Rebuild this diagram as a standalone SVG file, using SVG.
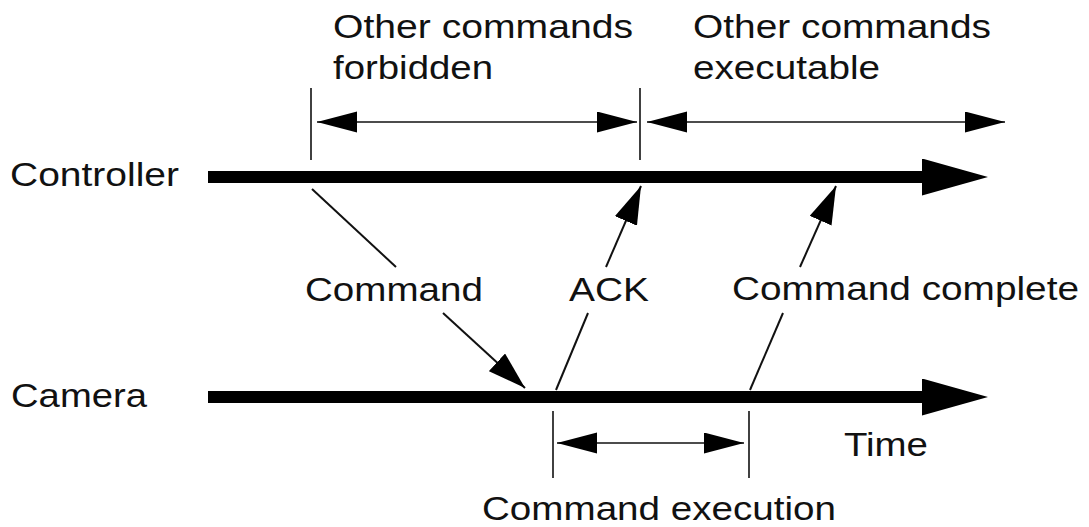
<svg xmlns="http://www.w3.org/2000/svg" width="1089" height="527" viewBox="0 0 1089 527">
  <style>
    .lbl { font-family: "Liberation Sans", Arial, sans-serif; font-size: 33px; fill: #111; }
    .tick { stroke: #111; stroke-width: 1.6; fill: none; }
    .dim { stroke: #111; stroke-width: 1.6; fill: none; marker-start: url(#dimHead); marker-end: url(#dimHead); }
    .msg { stroke: #111; stroke-width: 2; fill: none; }
    .axis { stroke: #000; stroke-width: 12; fill: none; marker-end: url(#axisHead); }
  </style>
  <defs>
    <marker id="dimHead" markerUnits="userSpaceOnUse" markerWidth="41" markerHeight="22" refX="40" refY="10.5" orient="auto-start-reverse">
      <path d="M0,0 L40,10.5 L0,21 Z" fill="#000"/>
    </marker>
    <marker id="msgHead" markerUnits="userSpaceOnUse" markerWidth="39" markerHeight="25" refX="38" refY="12" orient="auto">
      <path d="M0,0 L38,12 L0,24 Z" fill="#000"/>
    </marker>
    <marker id="axisHead" markerUnits="userSpaceOnUse" markerWidth="67" markerHeight="38" refX="0" refY="18.5" orient="auto">
      <path d="M0,0 L66,18.5 L0,37 Z" fill="#000"/>
    </marker>
  </defs>

  <!-- time axes -->
  <g id="controller">
    <text class="lbl" x="10" y="186" textLength="169" lengthAdjust="spacingAndGlyphs">Controller</text>
    <line class="axis" x1="208" y1="177" x2="922" y2="177"/>
  </g>
  <g id="camera">
    <text class="lbl" x="11" y="407" textLength="136" lengthAdjust="spacingAndGlyphs">Camera</text>
    <line class="axis" x1="208" y1="397" x2="922" y2="397"/>
    <text class="lbl" x="844" y="456" textLength="84" lengthAdjust="spacingAndGlyphs">Time</text>
  </g>

  <!-- interval: other commands forbidden -->
  <g id="forbidden">
    <text class="lbl" x="333" y="38" textLength="300" lengthAdjust="spacingAndGlyphs">Other commands</text>
    <text class="lbl" x="333" y="79" textLength="160" lengthAdjust="spacingAndGlyphs">forbidden</text>
  </g>

  <!-- interval: other commands executable -->
  <g id="executable">
    <text class="lbl" x="693" y="38" textLength="298" lengthAdjust="spacingAndGlyphs">Other commands</text>
    <text class="lbl" x="693" y="79" textLength="187" lengthAdjust="spacingAndGlyphs">executable</text>
  </g>

  <!-- interval: command execution -->
  <g id="execution">
    <text class="lbl" x="482" y="520" textLength="354" lengthAdjust="spacingAndGlyphs">Command execution</text>
  </g>

  <!-- message labels -->
  <g id="command">
    <text class="lbl" x="305" y="301" textLength="178" lengthAdjust="spacingAndGlyphs">Command</text>
  </g>
  <g id="ack">
    <text class="lbl" x="569" y="301" textLength="80" lengthAdjust="spacingAndGlyphs">ACK</text>
  </g>
  <g id="complete">
    <text class="lbl" x="732" y="300" textLength="347" lengthAdjust="spacingAndGlyphs">Command complete</text>
  </g>

  <g id="connectors">
    <!-- interval ticks -->
    <line class="tick" x1="311" y1="88" x2="311" y2="160"/>
    <line class="tick" x1="640" y1="88" x2="640" y2="160"/>
    <line class="tick" x1="553" y1="411" x2="553" y2="478"/>
    <line class="tick" x1="749" y1="411" x2="749" y2="478"/>
    <!-- interval spans -->
    <line class="dim" x1="317" y1="122" x2="637" y2="122"/>
    <line class="dim" x1="647" y1="122" x2="1005" y2="122"/>
    <line class="dim" x1="557" y1="443" x2="744" y2="443"/>
    <!-- Command: controller to camera -->
    <line class="msg" x1="312" y1="189" x2="396" y2="267"/>
    <line class="msg" x1="443" y1="313" x2="525" y2="388" marker-end="url(#msgHead)"/>
    <!-- ACK: camera to controller -->
    <line class="msg" x1="556" y1="390" x2="588" y2="313"/>
    <line class="msg" x1="606" y1="267" x2="641" y2="186" marker-end="url(#msgHead)"/>
    <!-- Command complete: camera to controller -->
    <line class="msg" x1="750" y1="390" x2="783" y2="313"/>
    <line class="msg" x1="800" y1="267" x2="836" y2="186" marker-end="url(#msgHead)"/>
  </g>
</svg>
